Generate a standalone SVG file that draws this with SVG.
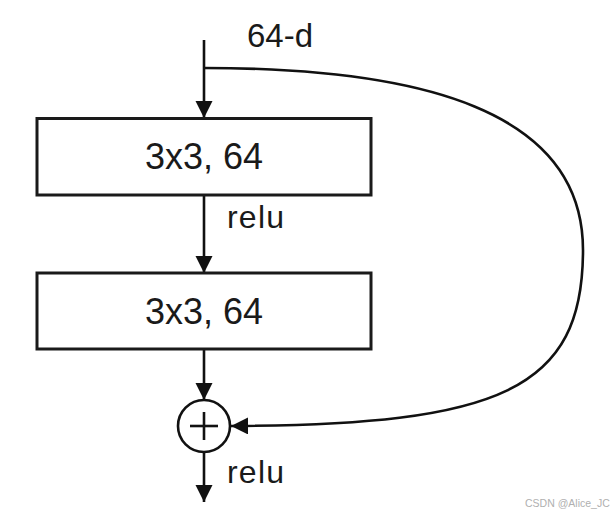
<svg xmlns="http://www.w3.org/2000/svg" width="616" height="514" viewBox="0 0 616 514">
  <style>
    .box { fill: #ffffff; stroke: #1a1a1a; stroke-width: 3; }
    .lbl { font-family: "Liberation Sans", Arial, sans-serif; fill: #1a1a1a; }
    .edge { fill: none; stroke: #111111; stroke-width: 2.6; }
    .wm { font-family: "Liberation Sans", Arial, sans-serif; fill: #b0b0b0; font-size: 10.5px; }
  </style>
  <defs>
    <marker id="arr" markerUnits="userSpaceOnUse" markerWidth="18" markerHeight="18" refX="17" refY="8.5" orient="auto">
      <path d="M0,0 L17,8.5 L0,17 Z" fill="#111111"/>
    </marker>
  </defs>
  <rect width="616" height="514" fill="#ffffff"/>

  <text class="lbl" x="247" y="47" font-size="33">64-d</text>

  <g id="connectors">
    <line class="edge" x1="204" y1="40" x2="204" y2="118" marker-end="url(#arr)"/>
    <line class="edge" x1="204" y1="195" x2="204" y2="273" marker-end="url(#arr)"/>
    <line class="edge" x1="204" y1="349" x2="204" y2="400" marker-end="url(#arr)"/>
    <line class="edge" x1="204" y1="452" x2="204" y2="502" marker-end="url(#arr)"/>
    <path class="edge" d="M204,68 C420,68 583,110 583,250 C583,390 500,425 231,426" marker-end="url(#arr)"/>
    <text class="lbl" x="227" y="228" font-size="32" textLength="57">relu</text>
    <text class="lbl" x="227" y="483" font-size="32" textLength="57">relu</text>
  </g>

  <g id="conv1">
    <rect class="box" x="37" y="118.5" width="334" height="76.5"/>
    <text class="lbl" x="204" y="169" font-size="36" text-anchor="middle">3x3, 64</text>
  </g>

  <g id="conv2">
    <rect class="box" x="37" y="273" width="334" height="76"/>
    <text class="lbl" x="204" y="324" font-size="36" text-anchor="middle">3x3, 64</text>
  </g>

  <g id="add">
    <circle cx="204" cy="426" r="26" fill="#ffffff" stroke="#111111" stroke-width="2.6"/>
    <line x1="190" y1="426" x2="218" y2="426" stroke="#111111" stroke-width="2.6"/>
    <line x1="204" y1="412" x2="204" y2="440" stroke="#111111" stroke-width="2.6"/>
  </g>

  <text class="wm" x="525" y="507">CSDN @Alice_JC</text>
</svg>
